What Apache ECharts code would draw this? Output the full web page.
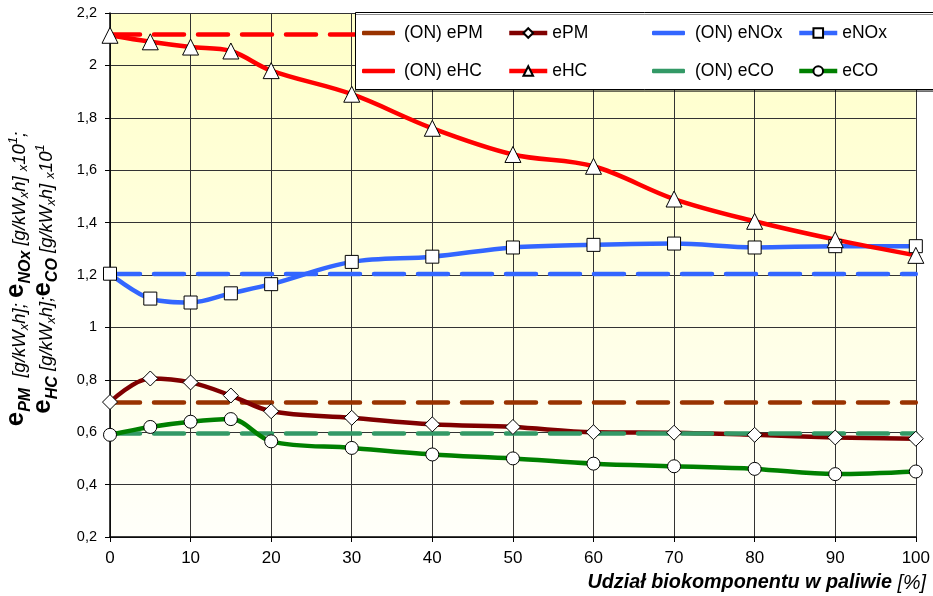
<!DOCTYPE html>
<html>
<head>
<meta charset="utf-8">
<script src="https://cdn.jsdelivr.net/npm/echarts@6/dist/echarts.min.js"></script>
<style>
html,body{margin:0;padding:0;background:#fff;}
#c{width:933px;height:596px;}
</style>
</head>
<body>
<div id="c"></div>
<script>
var xs = [0, 5, 10, 15, 20, 30, 40, 50, 60, 70, 80, 90, 100];
var ePM = [0.715, 0.805, 0.79, 0.74, 0.68, 0.655, 0.63, 0.62, 0.60, 0.598, 0.59, 0.58, 0.575];
var eHC = [2.115, 2.09, 2.07, 2.055, 1.98, 1.89, 1.76, 1.66, 1.615, 1.49, 1.405, 1.335, 1.275];
var eNOx = [1.205, 1.11, 1.095, 1.13, 1.165, 1.25, 1.27, 1.305, 1.315, 1.32, 1.305, 1.31, 1.31];
var eCO = [0.59, 0.62, 0.64, 0.65, 0.565, 0.54, 0.515, 0.50, 0.48, 0.47, 0.46, 0.44, 0.45];
var onPM = 0.713;
var onHC = 2.118;
var onNOx = 1.204;
var onCO = 0.595;
var xRange = [0, 100];

function pairs(vals) { return xs.map(function (x, i) { return [x, vals[i]]; }); }
function flat(v) { return xRange.map(function (x) { return [x, v]; }); }

var FONT = 'Liberation Sans, Arial, sans-serif';
var dash = [30, 14];

function onSeries(name, color, v) {
  return {
    name: name, type: 'line', data: flat(v), symbol: 'none',
    lineStyle: { color: color, width: 4.5, type: dash, cap: 'round' },
    itemStyle: { color: color }, silent: true, animation: false
  };
}
function dataSeries(name, color, vals, symbol, size) {
  return {
    name: name, type: 'line', data: pairs(vals), smooth: 0.35,
    symbol: symbol, symbolSize: size, showAllSymbol: true,
    lineStyle: { color: color, width: 4.5 },
    itemStyle: { color: '#ffffff', borderColor: '#000000', borderWidth: 1 },
    animation: false
  };
}

var chart = echarts.init(document.getElementById('c'));
function lgOn(left, names, pad) {
  return {
    orient: 'vertical', top: 23, left: left, z: 20, data: names,
    icon: 'roundRect', itemWidth: 33, itemHeight: 4.5, itemGap: 18, padding: 0,
    textStyle: { fontFamily: FONT, fontSize: 17.5, lineHeight: 20, height: 20, color: '#000', padding: [0, 0, 0, pad] },
    selectedMode: false
  };
}
function lgData(left, names) {
  return {
    orient: 'vertical', top: 23, left: left, z: 20, data: names,
    itemWidth: 38, itemHeight: 12, itemGap: 18, padding: 0,
    textStyle: { fontFamily: FONT, fontSize: 17.5, lineHeight: 20, height: 20, color: '#000', padding: [0, 0, 0, 0] },
    lineStyle: { type: 'solid', width: 4.5 },
    selectedMode: false
  };
}

var yTitle =
  '{e|e}{s|PM}{t|  [g/kW}{ts|x}{t|h]; }{e|e}{s|NOx}{t| [g/kW}{ts|x}{t|h] }{tx|x}{t|10}{sp|1}{t|;}\n' +
  '{e|e}{s|HC}{t| [g/kW}{ts|x}{t|h];}{e|e}{s|CO}{t| [g/kW}{ts|x}{t|h] }{tx|x}{t|10}{sp|1}';

chart.setOption({
  backgroundColor: '#ffffff',
  animation: false,
  grid: {
    left: 110, right: 16, top: 13, bottom: 59, show: true, borderWidth: 0,
    backgroundColor: new echarts.graphic.LinearGradient(0, 0, 0, 1, [
      { offset: 0, color: '#FFFFC8' },
      { offset: 1, color: '#FFFFFA' }
    ])
  },
  xAxis: {
    type: 'value', min: 0, max: 100, interval: 10,
    axisLine: { show: true, lineStyle: { color: '#000', width: 1.5 } },
    axisTick: { show: true, length: 5, lineStyle: { color: '#000' } },
    axisLabel: { fontFamily: FONT, fontSize: 17, color: '#000', margin: 13 },
    splitLine: { show: true, lineStyle: { color: '#333', width: 1 } }
  },
  yAxis: {
    type: 'value', min: 0.2, max: 2.2, interval: 0.2,
    axisLine: { show: true, lineStyle: { color: '#000', width: 1.5 } },
    axisTick: { show: true, length: 5, lineStyle: { color: '#000' } },
    axisLabel: {
      fontFamily: FONT, fontSize: 14.5, color: '#000', margin: 13,
      formatter: function (v) { return String(Number(v.toFixed(1))).replace('.', ','); }
    },
    splitLine: { show: true, lineStyle: { color: '#333', width: 1 } }
  },
  legend: [
    lgOn(362, ['(ON) ePM', '(ON) eHC'], 4),
    lgData(507, ['ePM', 'eHC']),
    lgOn(652, ['(ON) eNOx', '(ON) eCO'], 5),
    lgData(797, ['eNOx', 'eCO'])
  ],
  graphic: [
    { type: 'rect', left: 355, top: 12, z: 5,
      shape: { x: 0, y: 0, width: 600, height: 77 },
      style: { fill: '#ffffff', stroke: '#000', lineWidth: 1, shadowColor: 'rgba(0,0,0,0.45)', shadowOffsetY: 2, shadowOffsetX: 0, shadowBlur: 0 } },
    { type: 'text', z: 10, x: 926, y: 583,
      style: {
        text: '{b|Udział biokomponentu w paliwie }{i|[%]}',
        align: 'right', verticalAlign: 'middle',
        rich: {
          b: { fontFamily: FONT, fontSize: 19.8, fontWeight: 'bold', fontStyle: 'italic', fill: '#000' },
          i: { fontFamily: FONT, fontSize: 19.8, fontStyle: 'italic', fill: '#000' }
        }
      } },
    { type: 'text', z: 10, x: 34, y: 279, rotation: Math.PI / 2,
      style: {
        text: yTitle,
        align: 'center', verticalAlign: 'middle',
        rich: {
          e: { fontFamily: FONT, fontSize: 26, fontWeight: 'bold', fill: '#000', lineHeight: 27, verticalAlign: 'bottom', padding: [0, 0, 5, 0] },
          s: { fontFamily: FONT, fontSize: 16, fontWeight: 'bold', fontStyle: 'italic', fill: '#000', lineHeight: 27, verticalAlign: 'bottom', padding: [0, 0, 0, 0] },
          t: { fontFamily: FONT, fontSize: 18.5, fontStyle: 'italic', fill: '#000', lineHeight: 27, verticalAlign: 'bottom', padding: [0, 0, 5, 0] },
          ts: { fontFamily: FONT, fontSize: 13, fontStyle: 'italic', fill: '#000', lineHeight: 27, verticalAlign: 'bottom', padding: [0, 0, 3, 0] },
          tx: { fontFamily: FONT, fontSize: 13, fontStyle: 'italic', fill: '#000', lineHeight: 27, verticalAlign: 'bottom', padding: [0, 0, 4, 0] },
          sp: { fontFamily: FONT, fontSize: 13, fontStyle: 'italic', fill: '#000', lineHeight: 27, verticalAlign: 'bottom', padding: [0, 0, 14, 0] }
        }
      } }
  ],
  series: [
    onSeries('(ON) ePM', '#993300', onPM),
    onSeries('(ON) eHC', '#FF0000', onHC),
    onSeries('(ON) eNOx', '#3366FF', onNOx),
    dataSeries('ePM', '#800000', ePM, 'diamond', 15),
    dataSeries('eNOx', '#3366FF', eNOx, 'rect', 13),
    dataSeries('eHC', '#FF0000', eHC, 'triangle', 16),
    onSeries('(ON) eCO', '#339966', onCO),
    dataSeries('eCO', '#008000', eCO, 'circle', 13)
  ]
});
</script>
</body>
</html>
